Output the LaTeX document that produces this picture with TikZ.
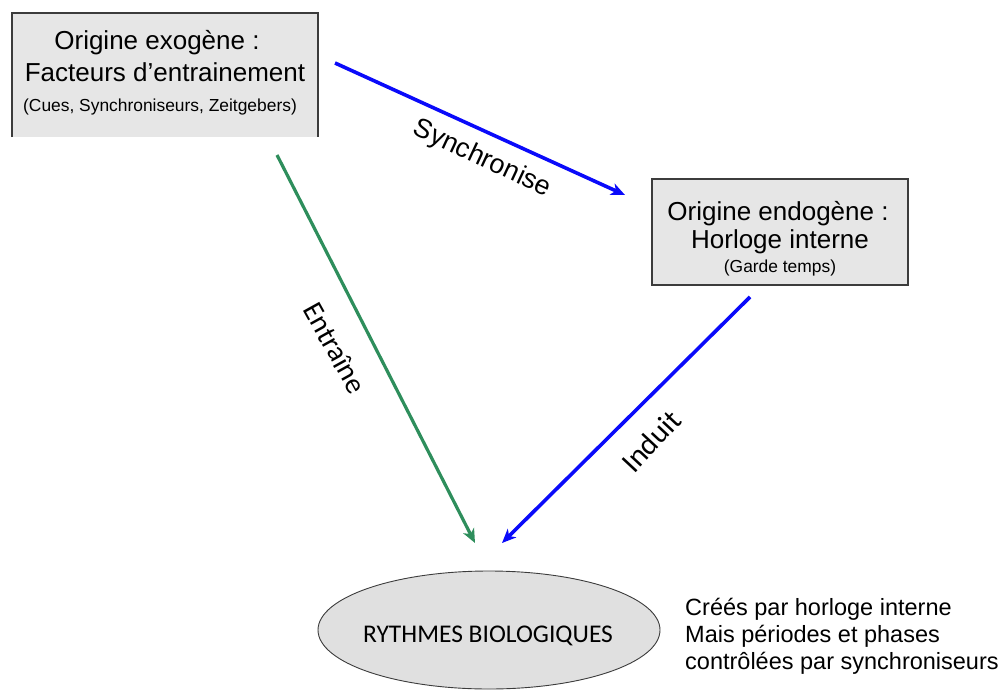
\documentclass[tikz,border=0pt]{standalone}
\usepackage{fontspec}
\setmainfont{Liberation Sans}
\newfontfamily\calib{Carlito}
\usetikzlibrary{arrows.meta,shapes.geometric}

\definecolor{boxgray}{RGB}{230,230,230}
\definecolor{ellgray}{RGB}{224,224,224}
\definecolor{edgegray}{RGB}{60,60,60}
\definecolor{linkblue}{RGB}{10,10,250}
\definecolor{linkgreen}{RGB}{46,142,92}

\begin{document}
\begin{tikzpicture}[x=1pt,y=-1pt,
  originbox/.style={fill=boxgray, inner sep=0pt, outer sep=0pt},
  boxedge/.style={draw=edgegray, line width=1.1pt},
  bigtxt/.style={anchor=base, inner sep=0pt, font=\fontsize{26}{30}\selectfont},
  smalltxt/.style={anchor=base, inner sep=0pt, font=\fontsize{17.4}{20}\selectfont},
  notetxt/.style={anchor=base west, inner sep=0pt, font=\fontsize{23.5}{27}\selectfont},
  linklabel/.style={inner sep=0pt},
  link/.style={line width=3.6pt, -{Stealth[length=14pt,width=12pt,inset=4pt]}},
]
\useasboundingbox (0,0) rectangle (1000,690);

% exogenous origin box (open at the bottom)
\node[originbox, minimum width=306pt, minimum height=124pt] (exo) at (165,75) {};
\draw[boxedge] (exo.south west) -- (exo.north west) -- (exo.north east) -- (exo.south east);
\node[bigtxt] (exoA) at (157,50) {Origine exogène :};
\node[bigtxt] (exoB) at (165,82) {Facteurs d’entrainement};
\node[smalltxt] (exoC) at (160,112) {(Cues, Synchroniseurs, Zeitgebers)};

% endogenous origin box
\node[originbox, boxedge, minimum width=256pt, minimum height=106pt] (endo) at (780,232) {};
\node[bigtxt] (endoA) at (778,220) {Origine endogène :};
\node[bigtxt] (endoB) at (780,248) {Horloge interne};
\node[smalltxt] (endoC) at (780,272) {(Garde temps)};

% biological rhythms
\node[ellipse, fill=ellgray, draw=edgegray, line width=0.9pt, inner sep=0pt,
      minimum width=342pt, minimum height=118pt] (rythmes) at (489,630) {};
\node[anchor=base, inner sep=0pt, font=\calib\fontsize{25.5}{30}\selectfont] (rythmesT) at (488,642) {RYTHMES BIOLOGIQUES};

% side note
\node[notetxt] (noteA) at (685,615) {Créés par horloge interne};
\node[notetxt] (noteB) at (685,642) {Mais périodes et phases};
\node[notetxt] (noteC) at (685,669) {contrôlées par synchroniseurs};

% connector end points
\coordinate (syncS) at (335,63);
\coordinate (syncE) at (625,195);
\coordinate (entrS) at (277,155);
\coordinate (entrE) at (475,543);
\coordinate (indS) at (750,297);
\coordinate (indE) at (502,543);

% connectors
\draw[link, draw=linkblue, fill=linkblue] (syncS) -- (syncE);
\draw[link, draw=linkgreen, fill=linkgreen, line width=3.2pt] (entrS) -- (entrE);
\draw[link, draw=linkblue, fill=linkblue] (indS) -- (indE);

% connector labels
\node[linklabel, rotate=-25, font=\fontsize{27}{30}\selectfont] (syncL) at (482,159) {Synchronise};
\node[linklabel, rotate=-61, font=\calib\fontsize{29}{32}\selectfont] (entrL) at (335,348) {Entraîne};
\node[linklabel, rotate=47, font=\calib\fontsize{30}{32}\selectfont] (indL) at (651,441) {Induit};
\end{tikzpicture}
\end{document}
